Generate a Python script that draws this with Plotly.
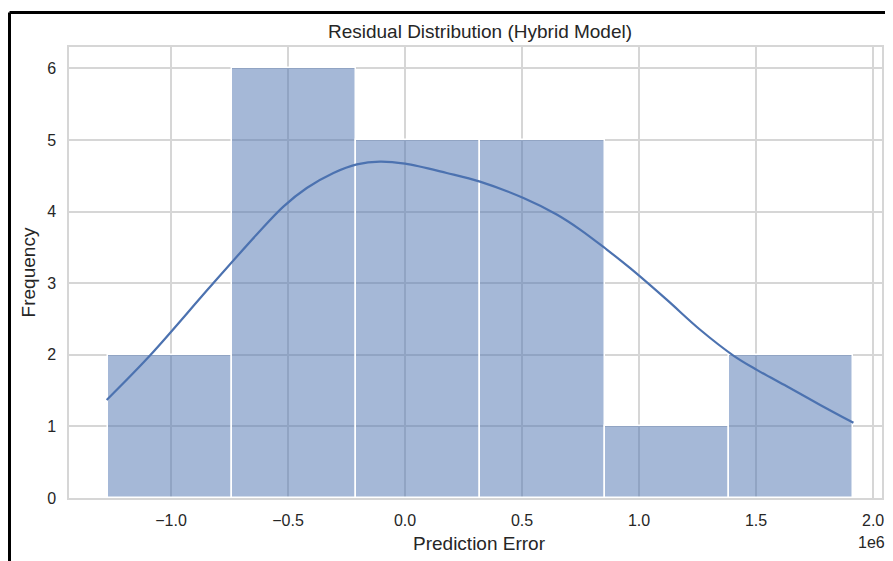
import plotly.graph_objects as go

# ---- data (x in units of 1e6) ----
bin_edges = [-1.2705, -0.7397, -0.2089, 0.3219, 0.8527, 1.3835, 1.9143]
counts = [2, 6, 5, 5, 1, 2]

kde_x = [-1.275, -1.09, -0.833, -0.634, -0.52, -0.42, -0.306, -0.206, -0.107, 0.0,
         0.178, 0.32, 0.506, 0.648, 0.748, 0.862, 0.962, 1.118, 1.261, 1.403,
         1.503, 1.631, 1.774, 1.916]
kde_y = [1.37, 1.99, 2.95, 3.68, 4.07, 4.33, 4.54, 4.66, 4.70, 4.67,
         4.54, 4.42, 4.19, 3.96, 3.75, 3.47, 3.21, 2.77, 2.35, 1.99,
         1.79, 1.56, 1.30, 1.05]

x_ticks = [-1.0, -0.5, 0.0, 0.5, 1.0, 1.5, 2.0]
x_tick_labels = ["\u22121.0", "\u22120.5", "0.0", "0.5", "1.0", "1.5", "2.0"]
y_ticks = [0, 1, 2, 3, 4, 5, 6]

centers = [(a + b) / 2 for a, b in zip(bin_edges[:-1], bin_edges[1:])]
widths = [b - a for a, b in zip(bin_edges[:-1], bin_edges[1:])]

FONT = "Arial, Liberation Sans, sans-serif"
TXT = "#262626"
GRID = "#d6d6d6"

# page body has an 8px margin: figure is shifted by (8, 8) inside the window
W, H = 885, 553
L, R, T, B = 61, 11, 39, 63
PW, PH = W - L - R, H - T - B

fig = go.Figure()
fig.add_trace(go.Bar(
    x=centers, y=counts, width=widths,
    marker=dict(color="rgba(76,114,176,0.5)", line=dict(color="white", width=1.5)),
    showlegend=False, hoverinfo="x+y",
))
fig.add_trace(go.Scatter(
    x=kde_x, y=kde_y, mode="lines", line=dict(color="#4c72b0", width=2.2, shape="spline"),
    showlegend=False,
))

fig.update_layout(
    width=W, height=H,
    margin=dict(l=L, r=R, t=T, b=B, autoexpand=False),
    paper_bgcolor="white", plot_bgcolor="white",
    bargap=0,
    font=dict(family=FONT, color=TXT, size=16),
    title=dict(text="Residual Distribution (Hybrid Model)", x=472 / W, xanchor="center",
               y=1 - 23 / H, yanchor="middle", font=dict(size=19, color=TXT)),
    xaxis=dict(
        range=[-1.436, 2.038], tickmode="array", tickvals=x_ticks, ticktext=x_tick_labels,
        showgrid=True, gridcolor=GRID, gridwidth=1.5, zeroline=False,
        showline=True, linecolor=GRID, linewidth=1.5, mirror=True, automargin=False,
        ticks="", ticklabelstandoff=7, tickfont=dict(size=16, color=TXT),
    ),
    yaxis=dict(
        range=[0, 6.3], tickmode="array", tickvals=y_ticks,
        showgrid=True, gridcolor=GRID, gridwidth=1.5, zeroline=False,
        showline=True, linecolor=GRID, linewidth=1.5, mirror=True, automargin=False,
        ticks="", ticklabelstandoff=8, tickfont=dict(size=16, color=TXT),
        title=dict(text="Frequency", standoff=6, font=dict(size=19, color=TXT)),
    ),
)

fig.add_annotation(text="Prediction Error", xref="paper", yref="paper",
                   x=(479 - 69) / PW, y=(498 - 543) / PH, xanchor="center", yanchor="middle",
                   showarrow=False, font=dict(size=19, color=TXT))
fig.add_annotation(text="1e6", xref="paper", yref="paper",
                   x=(887 - 69) / PW, y=(498 - 542) / PH, xanchor="right", yanchor="middle",
                   showarrow=False, font=dict(size=16, color=TXT))

# black frame of the screenshot (top and left edges)
top_y = (498 - 12.5) / PH
left_x = (9.5 - 69) / PW
fig.add_shape(type="line", xref="paper", yref="paper", x0=left_x, x1=1.1, y0=top_y, y1=top_y,
              line=dict(color="black", width=3))
fig.add_shape(type="line", xref="paper", yref="paper", x0=left_x, x1=left_x, y0=top_y, y1=-0.3,
              line=dict(color="black", width=3))

fig.write_html("out.html")
